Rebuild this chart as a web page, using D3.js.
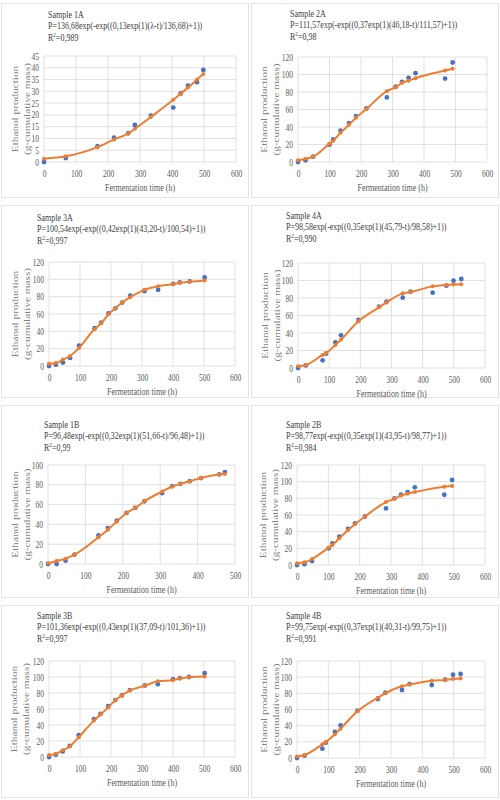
<!DOCTYPE html>
<html>
<head>
<meta charset="utf-8">
<script src="https://cdn.jsdelivr.net/npm/d3@7"></script>
<style>
  html, body { margin: 0; padding: 0; background: #ffffff; }
  svg { display: block; }
</style>
</head>
<body>
<svg id="chart" width="500" height="800"></svg>
<script>
// ---------------- DATA ----------------
const panelNames = ["Sample 1A", "Sample 2A", "Sample 3A", "Sample 4A", "Sample 1B", "Sample 2B", "Sample 3B", "Sample 4B"];
const formulas = [
  "P=136,68exp(-exp((0,13exp(1)(λ-t)/136,68)+1))",
  "P=111,57exp(-exp((0,37exp(1)(46,18-t)/111,57)+1))",
  "P=100,54exp(-exp((0,42exp(1)(43,20-t)/100,54)+1))",
  "P=98,58exp(-exp((0,35exp(1)(45,79-t)/98,58)+1))",
  "P=96,48exp(-exp((0,32exp(1)(51,66-t)/96,48)+1))",
  "P=98,77exp(-exp((0,35exp(1)(43,95-t)/98,77)+1))",
  "P=101,36exp(-exp((0,43exp(1)(37,09-t)/101,36)+1))",
  "P=99,75exp(-exp((0,37exp(1)(40,31-t)/99,75)+1))"
];
const r2Values = ["0,989", "0,98", "0,997", "0,990", "0,99", "0,984", "0,997", "0,991"];

const xTicks600 = [0, 100, 200, 300, 400, 500, 600];
const xTicks500 = [0, 100, 200, 300, 400, 500];
const yTicks45 = [0, 5, 10, 15, 20, 25, 30, 35, 40, 45];
const yTicks100 = [0, 20, 40, 60, 80, 100];
const yTicks120 = [0, 20, 40, 60, 80, 100, 120];

const time1A = [0, 68, 167, 219, 263, 284, 334, 404, 427, 450, 478, 498];
const obs1A  = [0, 1.7, 6.7, 10.3, 12.2, 15.7, 19.7, 23.1, 29.1, 32.4, 33.9, 39.1];
const fit1A  = [1.4, 2.4, 6.3, 9.6, 12.1, 14.1, 19.1, 26.4, 29.0, 31.6, 35.0, 37.4];

const time2A = [0, 24, 48, 100, 112, 135, 162, 184, 217, 282, 310, 330, 351, 373, 467, 491];
const obs2A  = [0, 1.9, 6.0, 19.8, 25.9, 35.7, 44.5, 52.5, 61.2, 73.8, 86.0, 91.6, 96.2, 101.5, 95.4, 113.7];
const fit2A  = [1.9, 3.8, 6.0, 21.0, 24.3, 33.5, 42.6, 50.6, 60.5, 81.0, 85.5, 90.5, 92.8, 95.8, 104.5, 106.5];

const time3A = [0, 22, 45, 68, 97, 147, 168, 192, 214, 236, 262, 308, 352, 401, 422, 454, 502];
const obs3A  = [0, 1.5, 3.9, 9.3, 23.6, 43.7, 50.0, 60.8, 66.6, 73.2, 81.3, 86.3, 87.9, 94.8, 96.4, 97.6, 102.2];
const fit3A  = [2.7, 3.5, 7.4, 11.6, 20.9, 42.6, 49.2, 59.6, 66.6, 73.2, 79.4, 87.9, 92.1, 94.5, 96.0, 97.2, 98.7];

const time4A = [0, 25, 79, 90, 120, 138, 194, 260, 284, 336, 361, 432, 476, 499, 524];
const obs4A  = [0, 3.0, 8.8, 16.4, 29.3, 37.3, 54.9, 70.1, 75.8, 80.4, 87.2, 86.1, 94.1, 99.8, 101.7];
const fit4A  = [1.9, 3.4, 14.9, 17.1, 26.3, 32.4, 53.3, 69.3, 75.0, 85.3, 86.9, 93.3, 94.9, 95.4, 95.8];

const time1B = [0, 23, 47, 71, 135, 160, 184, 210, 233, 258, 305, 332, 354, 379, 409, 458, 473];
const obs1B  = [0, 0, 3.4, 9.5, 28.8, 36.3, 43.7, 51.5, 56.6, 63.4, 71.5, 78.6, 81.0, 83.7, 86.8, 90.5, 92.9];
const fit1B  = [0.7, 3.0, 5.4, 9.5, 27.0, 34.6, 43.0, 51.5, 56.6, 63.4, 73.2, 78.3, 81.0, 83.7, 86.8, 90.3, 90.8];

const time2B = [0, 24, 48, 101, 113, 135, 163, 185, 217, 284, 311, 332, 353, 376, 470, 495];
const obs2B  = [0, 1.0, 4.8, 20.0, 26.0, 34.0, 43.4, 50.0, 58.2, 67.9, 80.0, 84.3, 87.5, 93.2, 84.3, 102.0];
const fit2B  = [2.0, 3.2, 7.2, 20.9, 24.0, 32.0, 42.0, 49.0, 58.2, 75.5, 79.5, 83.5, 85.5, 87.5, 94.0, 94.8];

const time3B = [0, 22, 44, 67, 96, 145, 166, 191, 214, 235, 261, 309, 351, 400, 422, 452, 502];
const obs3B  = [0, 2.9, 7.0, 14.0, 27.3, 47.2, 53.8, 63.7, 71.2, 77.0, 83.6, 89.4, 91.0, 97.2, 98.5, 100.0, 104.7];
const fit3B  = [2.5, 4.1, 8.3, 13.2, 24.8, 45.5, 53.0, 62.0, 71.0, 77.0, 83.0, 89.0, 94.7, 96.0, 98.0, 99.7, 100.5];

const time4B = [0, 24, 81, 92, 121, 139, 193, 258, 282, 335, 359, 430, 473, 498, 522];
const obs4B  = [0, 2.9, 11.5, 19.0, 32.2, 40.4, 58.6, 73.0, 80.8, 84.1, 91.5, 90.3, 96.9, 103.1, 103.9];
const fit4B  = [2.0, 3.7, 16.9, 19.8, 29.3, 36.3, 57.7, 74.6, 80.0, 88.7, 90.8, 95.7, 96.5, 97.7, 98.5];

const xLabel = "Fermentation time (h)";
const yLabel1 = "Ethanol production";
const yLabel2 = "(g-cumulative mass)";

// ---------------- LAYOUT ----------------
const SY = 1.25; // vertical stretch of the original picture's text
const FONT = "'Liberation Serif', 'Times New Roman', serif";
const BLUE = "#4472C4", ORANGE = "#ED7D31";

const series = [
  {time: time1A, obs: obs1A, fit: fit1A, xTicks: xTicks600, yTicks: yTicks45},
  {time: time2A, obs: obs2A, fit: fit2A, xTicks: xTicks600, yTicks: yTicks120},
  {time: time3A, obs: obs3A, fit: fit3A, xTicks: xTicks600, yTicks: yTicks120},
  {time: time4A, obs: obs4A, fit: fit4A, xTicks: xTicks600, yTicks: yTicks120},
  {time: time1B, obs: obs1B, fit: fit1B, xTicks: xTicks500, yTicks: yTicks100},
  {time: time2B, obs: obs2B, fit: fit2B, xTicks: xTicks600, yTicks: yTicks120},
  {time: time3B, obs: obs3B, fit: fit3B, xTicks: xTicks600, yTicks: yTicks120},
  {time: time4B, obs: obs4B, fit: fit4B, xTicks: xTicks600, yTicks: yTicks120}
];

// plot area pixel bounds and text anchors
const layout = [
  {x0: 44,  x1: 236, yT: 56,  yB: 162, tx: 48,  ty: 18,  yl1: 15,  yl2: 27,  box: [1, 3, 247, 194]},
  {x0: 298, x1: 487, yT: 57,  yB: 162, tx: 290, ty: 17,  yl1: 264, yl2: 276, box: [251, 3, 247, 194]},
  {x0: 49,  x1: 235, yT: 262, yB: 366, tx: 37,  ty: 221, yl1: 15,  yl2: 27,  box: [1, 205, 247, 192]},
  {x0: 298, x1: 485, yT: 263, yB: 368, tx: 286, ty: 219, yl1: 265, yl2: 277, box: [251, 205, 247, 192]},
  {x0: 48,  x1: 235, yT: 465, yB: 564, tx: 44,  ty: 428, yl1: 15,  yl2: 27,  box: [1, 405, 247, 192]},
  {x0: 297, x1: 485, yT: 465, yB: 565, tx: 286, ty: 428, yl1: 263, yl2: 275, box: [251, 405, 247, 192]},
  {x0: 49,  x1: 235, yT: 661, yB: 757, tx: 37,  ty: 619, yl1: 14,  yl2: 26,  box: [1, 605, 247, 192]},
  {x0: 297, x1: 485, yT: 661, yB: 758, tx: 286, ty: 619, yl1: 264, yl2: 276, box: [251, 605, 247, 192]}
];

const svg = d3.select("#chart");

function stext(parent, x, y, str, o) {
  const g = parent.append("g")
    .attr("transform", `translate(${x},${y}) scale(1,${SY})` + (o.rotate ? " rotate(-90)" : ""));
  const t = g.append("text")
    .attr("font-family", FONT)
    .attr("font-size", o.size)
    .attr("fill", o.fill)
    .attr("text-anchor", o.anchor || "start");
  if (o.central) t.attr("dy", "0.35em");
  if (str !== null) t.text(str);
  return t;
}

series.forEach((s, i) => {
  const L = layout[i];
  const g = svg.append("g");

  // panel frame
  g.append("rect")
    .attr("x", L.box[0] + 0.5).attr("y", L.box[1] + 0.5)
    .attr("width", L.box[2]).attr("height", L.box[3])
    .attr("fill", "#ffffff").attr("stroke", "#e3e3e3").attr("stroke-width", 1);

  const xMax = s.xTicks[s.xTicks.length - 1];
  const yMax = s.yTicks[s.yTicks.length - 1];
  const x = d3.scaleLinear().domain([0, xMax]).range([L.x0, L.x1]);
  const y = d3.scaleLinear().domain([0, yMax]).range([L.yB, L.yT]);

  // gridlines
  g.append("g").selectAll("line.h").data(s.yTicks).join("line")
    .attr("x1", L.x0).attr("x2", L.x1)
    .attr("y1", d => y(d)).attr("y2", d => y(d))
    .attr("stroke", "#d9d9d9").attr("stroke-width", 0.8);
  g.append("g").selectAll("line.v").data(s.xTicks).join("line")
    .attr("x1", d => x(d)).attr("x2", d => x(d))
    .attr("y1", L.yT).attr("y2", L.yB)
    .attr("stroke", "#d9d9d9").attr("stroke-width", 0.8);

  // axes (labels only)
  const ya = g.append("g").attr("transform", `translate(${L.x0},0)`)
    .call(d3.axisLeft(y).tickValues(s.yTicks).tickSize(0).tickPadding(5).tickFormat(d3.format("d")));
  ya.select(".domain").remove();
  ya.selectAll("text")
    .attr("font-family", FONT).attr("font-size", 7.5).attr("fill", "#595959")
    .attr("transform", `scale(1,${SY})`);

  const xa = g.append("g").attr("transform", `translate(0,${L.yB})`)
    .call(d3.axisBottom(x).tickValues(s.xTicks).tickSize(0).tickFormat(d3.format("d")));
  xa.select(".domain").remove();
  xa.selectAll("text")
    .attr("font-family", FONT).attr("font-size", 7.5).attr("fill", "#595959")
    .attr("y", 0).attr("dy", "0.35em")
    .attr("transform", `translate(0,12) scale(1,${SY})`);

  // axis titles
  stext(g, (L.x0 + L.x1) / 2, L.yB + 25, xLabel, {size: 8, fill: "#595959", anchor: "middle", central: true});
  const yc = (L.yT + L.yB) / 2;
  stext(g, L.yl1, yc, yLabel1, {size: 9, fill: "#808080", anchor: "middle", rotate: true, central: true});
  stext(g, L.yl2, yc, yLabel2, {size: 9, fill: "#808080", anchor: "middle", rotate: true, central: true});

  // title block
  stext(g, L.tx, L.ty, panelNames[i], {size: 8, fill: "#404040"});
  stext(g, L.tx, L.ty + 11.3, formulas[i], {size: 8, fill: "#404040"});
  const r = stext(g, L.tx, L.ty + 22.6, null, {size: 8, fill: "#404040"});
  r.append("tspan").text("R");
  r.append("tspan").attr("font-size", 5.2).attr("dy", -3).text("2");
  r.append("tspan").attr("dy", 3).text("=" + r2Values[i]);

  // observed points (blue)
  const obsPts = s.time.map((t, k) => [t, s.obs[k]]);
  const fitPts = s.time.map((t, k) => [t, s.fit[k]]);
  g.append("g").selectAll("circle").data(obsPts).join("circle")
    .attr("cx", d => x(d[0])).attr("cy", d => y(d[1])).attr("r", 2.4)
    .attr("fill", BLUE);

  // fitted curve (orange)
  const line = d3.line().x(d => x(d[0])).y(d => y(d[1])).curve(d3.curveMonotoneX);
  g.append("path").datum(fitPts).attr("d", line)
    .attr("fill", "none").attr("stroke", ORANGE).attr("stroke-width", 2);
  g.append("g").selectAll("circle").data(fitPts).join("circle")
    .attr("cx", d => x(d[0])).attr("cy", d => y(d[1])).attr("r", 2)
    .attr("fill", ORANGE);
});
</script>
</body>
</html>
